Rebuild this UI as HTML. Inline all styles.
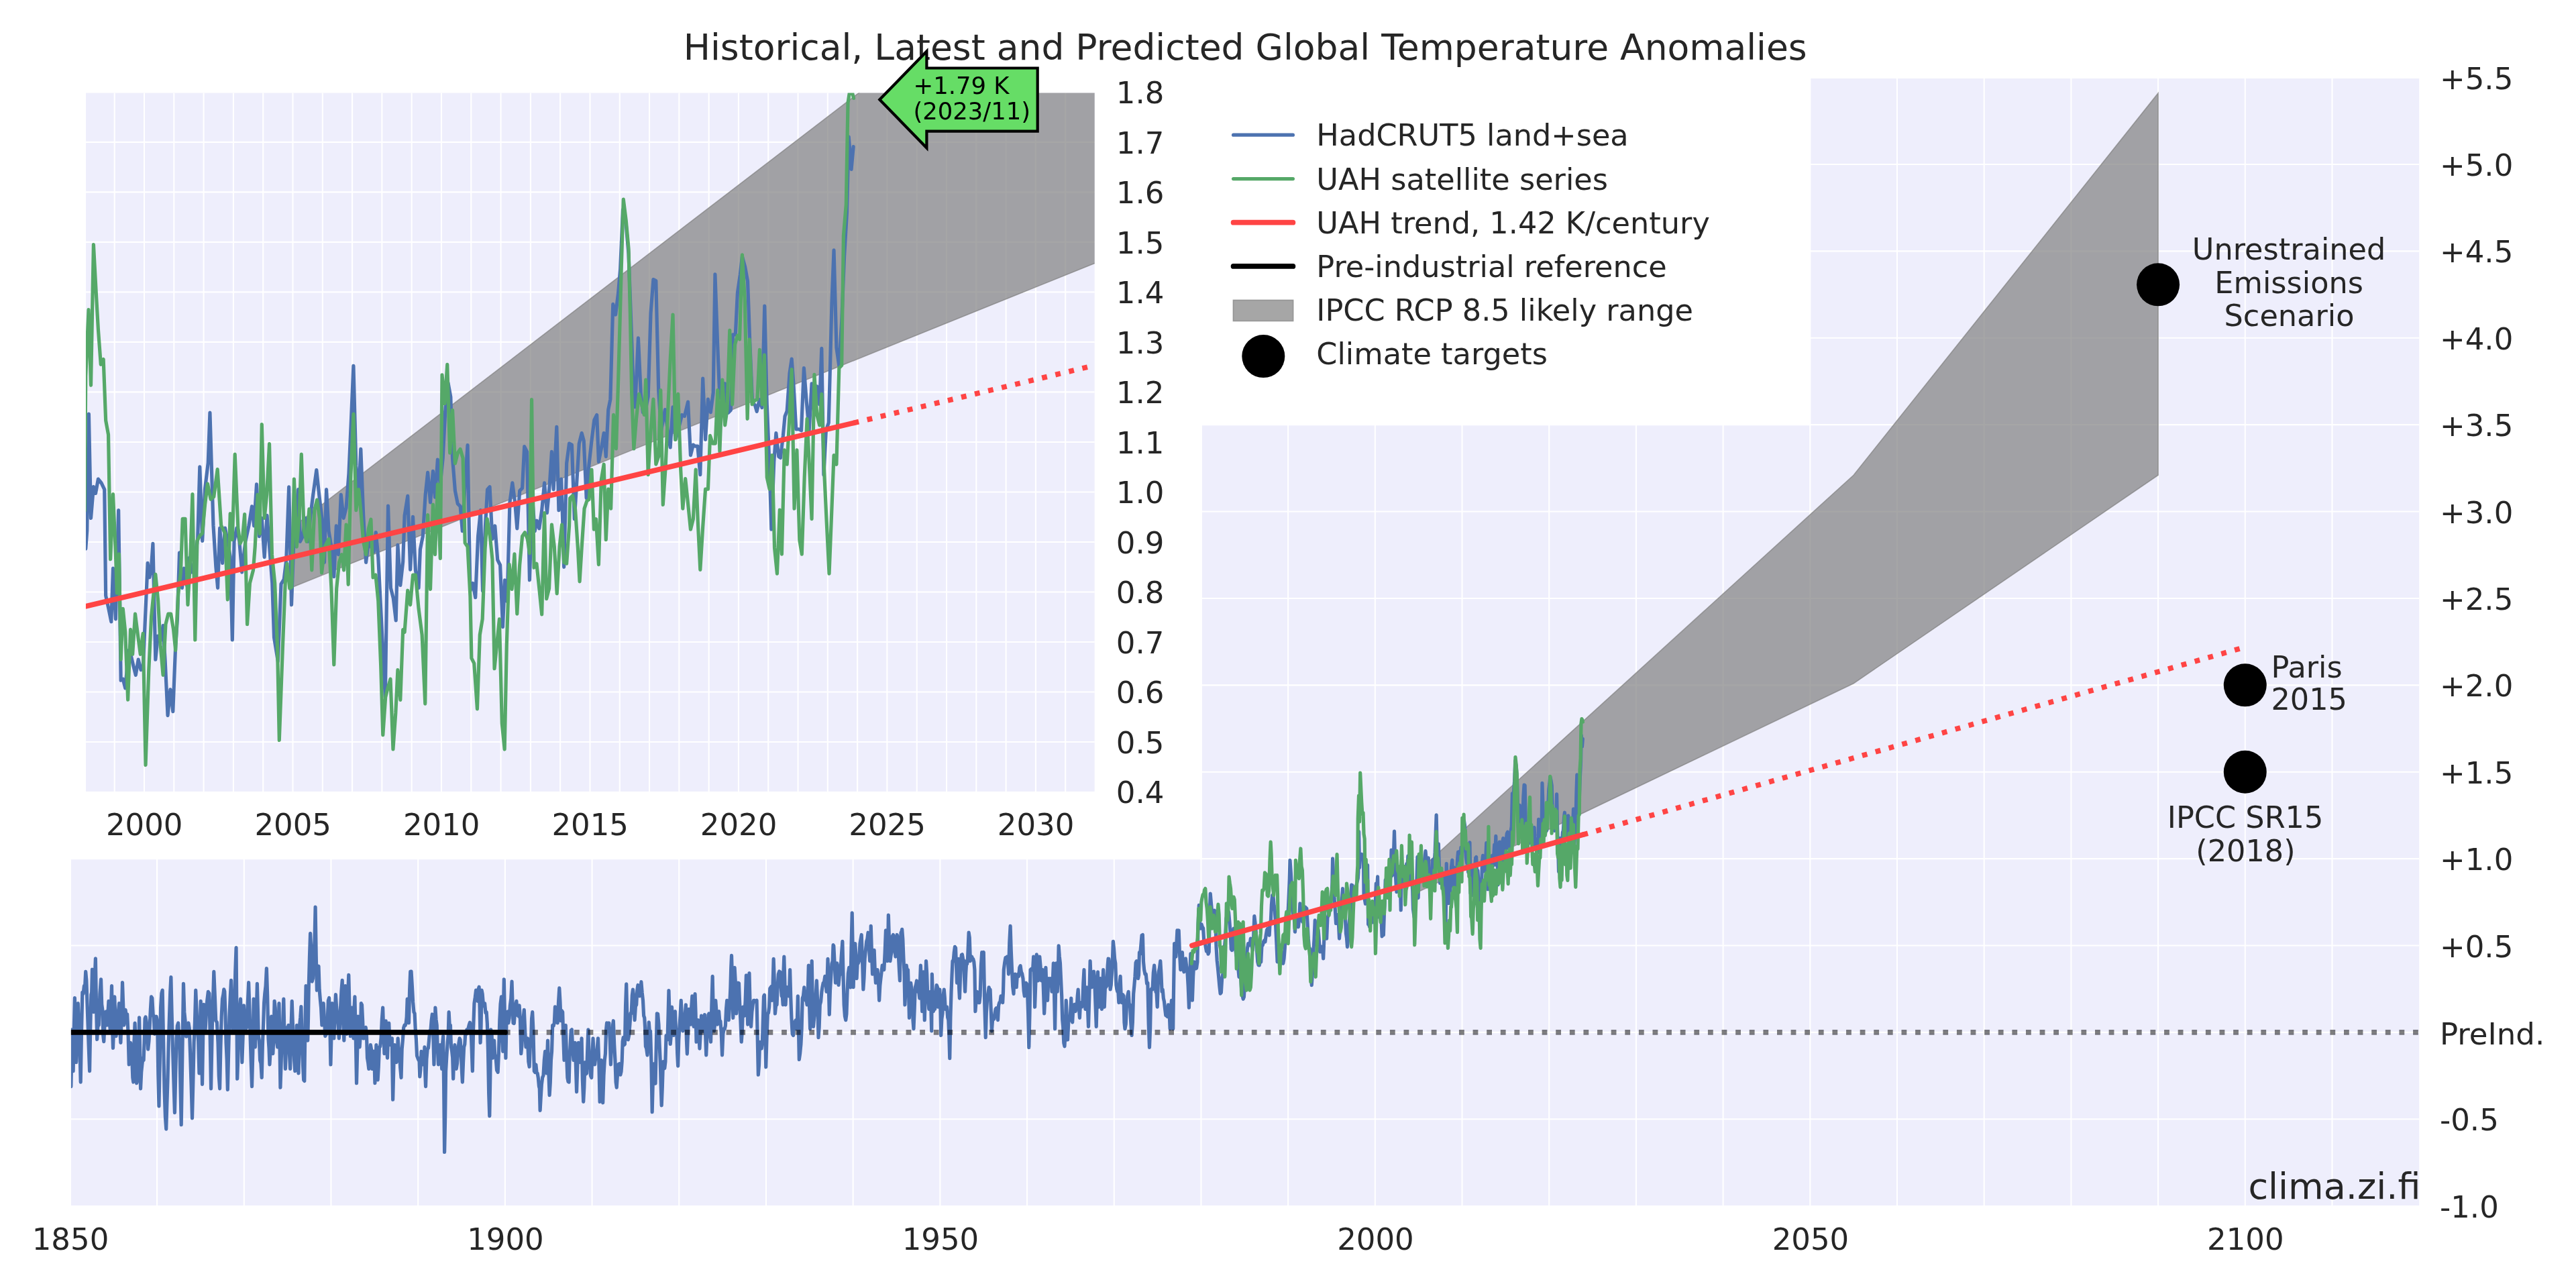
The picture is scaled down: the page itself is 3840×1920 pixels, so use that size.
<!DOCTYPE html><html><head><meta charset="utf-8"><title>Historical, Latest and Predicted Global Temperature Anomalies</title>
<style>html,body{margin:0;padding:0;background:#fff;overflow:hidden;}svg{display:block;will-change:transform;}text{font-family:'DejaVu Sans', 'Liberation Sans', sans-serif;fill:#262626;}</style></head><body>
<svg width="3840" height="1920" viewBox="0 0 3840 1920">
<rect x="0" y="0" width="3840" height="1920" fill="#fff"/>
<defs><clipPath id="cm"><rect x="105.9" y="117" width="3500.3" height="1680"/></clipPath>
<clipPath id="ci"><rect x="127.95" y="138.5" width="1503.75" height="1041.4"/></clipPath></defs>
<rect x="105.9" y="117" width="3500.3" height="1680" fill="#EEEEFC"/>
<path d="M234.09,117V1797M363.79,117V1797M493.49,117V1797M623.18,117V1797M752.88,117V1797M882.57,117V1797M1012.26,117V1797M1141.96,117V1797M1271.66,117V1797M1401.35,117V1797M1531.05,117V1797M1660.74,117V1797M1790.44,117V1797M1920.13,117V1797M2049.82,117V1797M2179.52,117V1797M2309.22,117V1797M2438.91,117V1797M2568.61,117V1797M2698.3,117V1797M2827.99,117V1797M2957.69,117V1797M3087.39,117V1797M3217.08,117V1797M3346.78,117V1797M3476.47,117V1797M105.9,1668.29H3606.2M105.9,1538.9H3606.2M105.9,1409.51H3606.2M105.9,1280.12H3606.2M105.9,1150.73H3606.2M105.9,1021.34H3606.2M105.9,891.95H3606.2M105.9,762.56H3606.2M105.9,633.17H3606.2M105.9,503.78H3606.2M105.9,374.39H3606.2M105.9,245H3606.2" stroke="#fff" stroke-width="2.1" fill="none"/>
<g clip-path="url(#cm)">
<polygon points="2114.67,1298.23 2763.15,708.22 3217.08,138.9 3217.08,708.22 2763.15,1018.75 2114.67,1329.29" fill="#808080" fill-opacity="0.7" stroke="#808080" stroke-opacity="0.7" stroke-width="1.6" stroke-linejoin="miter"/>
<path d="M105.87,1619.56L106.52,1588.53L107.17,1534.79L108.15,1554.97L109.13,1596.74L110.27,1533.93L111.41,1487.51L112.55,1543.21L113.7,1583.69L115,1539.82L116.3,1495.66L117.12,1516.79L117.93,1534.79L119.08,1569.21L120.22,1613.04L121.52,1537.23L122.83,1479.35L124.13,1481.45L125.43,1469.57L126.58,1470.86L127.72,1448.38L128.86,1461.59L130,1495.66L131.79,1548.29L133.59,1596.74L134.73,1531.53L135.87,1482.62L136.68,1479.33L137.5,1445.12L138.64,1478.61L139.78,1508.7L141.09,1461.88L142.39,1428.81L143.53,1497.56L144.67,1549.46L145.98,1527.65L147.28,1528.26L148.91,1481.56L150.54,1459.79L151.68,1497.19L152.83,1505.44L153.8,1543.82L154.78,1552.72L155.92,1529.42L157.06,1508.7L158.21,1507.92L159.35,1528.26L160.65,1514.02L161.96,1492.4L163.1,1522.39L164.24,1534.79L165.38,1504.6L166.52,1469.57L167.5,1530.66L168.48,1562.5L169.62,1532.83L170.76,1485.88L171.9,1517.15L173.04,1544.57L174.18,1526.76L175.33,1508.7L176.47,1507.38L177.61,1495.66L178.75,1533.36L179.89,1554.35L181.2,1518.25L182.5,1464.68L183.64,1497.73L184.78,1528.26L185.92,1522.39L187.06,1505.44L188.37,1515.84L189.67,1511.96L190.98,1538.98L192.28,1586.96L193.42,1568.9L194.56,1554.35L195.71,1563.32L196.85,1580.43L197.83,1606.49L198.8,1613.04L199.95,1553.73L201.09,1525L202.39,1558.66L203.69,1614.67L204.84,1610.96L205.98,1583.69L206.79,1555.47L207.61,1516.85L208.59,1562.96L209.56,1622.82L210.71,1598.33L211.85,1586.96L212.99,1577.18L214.13,1580.43L215.11,1551.88L216.09,1518.48L217.06,1515.94L218.04,1521.74L219.35,1537.65L220.65,1564.13L221.95,1552.3L223.26,1528.26L224.4,1504.35L225.54,1485.88L226.85,1487.98L228.15,1511.96L229.29,1515.94L230.43,1541.31L231.74,1528.11L233.04,1515.22L233.86,1518.58L234.67,1525L235.81,1601.41L236.95,1648.91L238.26,1583.53L239.56,1502.18L240.87,1480.63L242.17,1476.09L243.64,1553.75L245.11,1626.08L246.41,1664.77L247.72,1683.14L248.86,1644.95L250,1609.78L251.3,1554.57L252.61,1511.96L253.75,1478.83L254.89,1456.53L256.03,1507.7L257.17,1551.09L258.8,1606.78L260.43,1658.69L261.74,1603L263.04,1547.83L264.35,1529.08L265.65,1525L266.79,1543.92L267.93,1564.13L269.07,1623.69L270.22,1676.62L271.85,1571.79L273.48,1466.31L274.78,1508.64L276.09,1521.74L277.39,1545.17L278.69,1544.57L279.83,1529.89L280.98,1525L282.28,1532.82L283.59,1570.65L285.05,1615.85L286.52,1666.84L287.82,1613.9L289.13,1554.35L290.43,1525.46L291.74,1476.09L293.04,1505.37L294.35,1534.79L295.65,1552.42L296.95,1600L298.1,1537.8L299.24,1492.4L300.38,1553.12L301.52,1616.3L302.66,1545.61L303.8,1497.29L304.94,1524.35L306.08,1534.79L307.39,1513.16L308.69,1492.4L310.32,1478.39L311.95,1480.99L313.26,1549.49L314.56,1622.82L315.7,1563.77L316.85,1502.18L317.82,1482.44L318.8,1448.38L320.27,1483.57L321.74,1521.74L323.37,1523.85L325,1554.35L326.3,1603.94L327.61,1622.82L328.91,1560.21L330.21,1515.22L331.52,1488.97L332.82,1482.62L333.8,1474.85L334.78,1477.72L335.92,1508.57L337.06,1554.35L338.2,1579.8L339.35,1624.45L340.65,1569.26L341.95,1515.22L343.26,1486.42L344.56,1461.42L345.7,1500.4L346.85,1534.79L348.15,1534.44L349.45,1508.7L350.76,1449.1L352.06,1412.49L352.88,1508.14L353.69,1608.15L355,1571.01L356.3,1515.22L357.44,1502.04L358.58,1489.14L359.73,1536.88L360.87,1583.69L362.17,1545.75L363.47,1498.92L364.62,1521.63L365.76,1534.79L366.9,1532.67L368.04,1531.52L369.34,1494.27L370.65,1464.68L371.95,1504.39L373.26,1551.09L374.4,1586.62L375.54,1619.56L376.84,1569.01L378.15,1489.14L379.29,1533.4L380.43,1560.87L381.9,1523.62L383.37,1466.31L384.34,1502.82L385.32,1544.57L386.46,1551.29L387.61,1580.43L388.91,1584.94L390.21,1606.52L391.36,1558.17L392.5,1528.26L393.64,1494.8L394.78,1480.99L396.08,1469.84L397.39,1443.49L398.69,1485.05L400,1547.83L400.97,1562.02L401.95,1586.96L403.26,1564.03L404.56,1515.22L405.7,1557.95L406.84,1570.65L407.99,1546.6L409.13,1492.4L410.27,1502.39L411.41,1528.26L412.55,1552.34L413.69,1560.87L414.83,1540.39L415.98,1495.66L416.95,1554.55L417.93,1621.19L419.24,1581.19L420.54,1531.52L421.68,1523.7L422.82,1489.14L424.13,1551.88L425.43,1593.48L426.57,1561.65L427.71,1531.52L428.86,1534.09L430,1528.26L431.3,1567.92L432.6,1593.48L433.91,1536.37L435.21,1492.4L436.36,1524.78L437.5,1554.35L438.64,1581.07L439.78,1596.74L441.08,1563.32L442.39,1528.26L443.69,1578.92L445,1600L445.81,1567.65L446.63,1528.26L447.77,1516.76L448.91,1500.55L450.21,1553.44L451.52,1586.96L452.66,1609.93L453.8,1611.41L454.94,1528.08L456.08,1469.57L457.39,1510.02L458.69,1551.09L459.51,1518.55L460.32,1467.94L461.46,1426.34L462.6,1391.29L463.91,1417.33L465.21,1463.05L466.52,1458.37L467.82,1423.92L468.96,1403.02L470.1,1352.16L471.25,1425.11L472.39,1476.09L473.69,1451.37L475,1440.23L476.14,1475.23L477.28,1489.14L478.58,1502.35L479.89,1528.26L481.03,1506.43L482.17,1495.66L483.47,1518.72L484.78,1544.57L486.41,1541.5L488.04,1525L489.34,1491.49L490.65,1487.51L491.79,1527.98L492.93,1586.96L494.07,1540.79L495.21,1495.66L496.52,1530.34L497.82,1547.83L499.13,1510.61L500.43,1482.62L501.57,1500.54L502.71,1511.96L504.02,1527.54L505.32,1547.83L506.46,1530.55L507.6,1502.18L508.91,1477.73L510.21,1461.42L511.52,1519.96L512.82,1551.09L513.86,1516.58L514.89,1469.57L516.03,1490.91L517.17,1541.31L518.48,1485.63L519.78,1453.27L521.09,1504.93L522.39,1544.57L523.53,1512.24L524.67,1502.18L525.82,1530.89L526.96,1547.83L527.93,1503.21L528.91,1485.88L530.22,1542.7L531.52,1614.67L532.66,1567.55L533.8,1515.22L534.95,1545.74L536.09,1560.87L537.23,1543.53L538.37,1495.66L539.51,1497.86L540.65,1521.74L541.63,1548.01L542.61,1547.83L543.91,1532.72L545.22,1531.52L546.36,1540L547.5,1577.17L548.64,1583.8L549.78,1593.48L551.09,1585.74L552.39,1557.61L553.53,1564.12L554.67,1593.48L555.98,1566.88L557.28,1567.39L558.1,1584.7L558.91,1614.67L559.89,1585.86L560.87,1557.61L562.01,1587.48L563.15,1609.78L564.29,1590.08L565.43,1560.87L566.74,1560.08L568.04,1547.83L569.35,1519.6L570.65,1502.18L571.79,1538.5L572.93,1570.65L574.07,1555.7L575.22,1521.74L576.36,1561.74L577.5,1577.17L578.64,1545.93L579.78,1525L580.76,1547.64L581.74,1557.61L583.04,1552.72L584.35,1547.83L585,1598.9L585.65,1639.13L586.96,1586.83L588.26,1557.61L589.56,1559.22L590.87,1583.69L592.01,1580.73L593.15,1547.83L594.29,1564.8L595.43,1567.39L596.74,1592.3L598.04,1606.52L599.18,1563.68L600.33,1551.09L601.63,1532.23L602.93,1528.26L604.07,1528.67L605.22,1525L606.19,1515.98L607.17,1489.14L608.31,1501.65L609.46,1525L610.6,1476.2L611.74,1448.38L613.04,1448.09L614.35,1469.57L615.65,1493.99L616.96,1508.7L618.1,1510.8L619.24,1534.79L620.38,1548.54L621.52,1573.91L622.82,1577.4L624.13,1580.43L624.94,1579.32L625.76,1604.89L626.9,1594.38L628.04,1567.39L629.35,1571.75L630.65,1586.96L631.79,1585.8L632.93,1560.87L633.75,1600.47L634.56,1619.56L635.87,1579.08L637.17,1564.13L638.48,1562.23L639.78,1547.83L640.92,1536.26L642.06,1534.79L643.2,1520.73L644.35,1511.96L645.65,1538.86L646.95,1586.96L647.93,1548.66L648.91,1502.18L650.05,1519.79L651.19,1528.26L652.34,1564.09L653.48,1586.96L654.78,1560.93L656.08,1557.61L657.39,1572.31L658.69,1593.48L659.67,1554.91L660.65,1544.57L661.63,1618.95L662.61,1717.38L663.59,1668.38L664.56,1596.74L665.87,1573.95L667.17,1554.35L668.15,1543.81L669.13,1508.7L670.27,1529.56L671.41,1528.26L672.55,1561.08L673.69,1567.39L674.67,1576.4L675.65,1608.15L676.79,1573.93L677.93,1557.61L679.07,1565.34L680.22,1593.48L681.52,1584.99L682.82,1567.39L683.97,1554.84L685.11,1547.83L686.09,1549.84L687.06,1564.13L688.21,1592.37L689.35,1613.04L690.49,1584.76L691.63,1560.87L692.77,1556.73L693.91,1538.05L694.89,1541.7L695.87,1534.79L697.5,1535L699.13,1528.26L700.43,1524.22L701.74,1528.26L703.04,1560.5L704.35,1596.74L705.65,1533L706.95,1495.66L708.26,1486.89L709.56,1476.09L710.87,1489.09L712.17,1492.4L713.15,1474.57L714.13,1471.2L715.11,1502.6L716.08,1554.35L717.06,1530.36L718.04,1476.09L719.18,1481.78L720.32,1495.66L721.47,1499.88L722.61,1495.66L723.91,1509.68L725.21,1508.7L726.36,1526.09L727.5,1567.39L728.64,1629.77L729.78,1663.58L730.76,1607.27L731.74,1534.79L733.04,1540.82L734.35,1577.17L735.49,1566.39L736.63,1551.09L737.77,1572.62L738.91,1573.91L740.54,1595.28L742.17,1598.37L743.48,1568.09L744.78,1521.74L746.08,1496.23L747.39,1485.88L748.53,1538.97L749.67,1567.39L750.49,1500.84L751.3,1459.79L752.61,1522.26L753.91,1577.17L754.89,1528.33L755.87,1508.7L756.84,1507.95L757.82,1525L759.13,1517.85L760.43,1498.92L761.74,1488.64L763.04,1463.05L764.02,1494.74L765,1525L766.3,1525.55L767.61,1508.7L768.75,1497.24L769.89,1492.4L771.03,1513.25L772.17,1511.96L773.15,1514.98L774.13,1498.92L775.43,1519.8L776.74,1570.65L777.88,1559.07L779.02,1534.79L780.16,1517.13L781.3,1505.44L782.61,1534.71L783.91,1560.87L785.21,1557.99L786.52,1547.83L787.82,1582.59L789.13,1590.22L790.27,1561.08L791.41,1557.61L792.55,1518.57L793.69,1508.7L795,1538.13L796.3,1596.74L797.61,1598.53L798.91,1586.96L800.05,1599.03L801.19,1600L802.33,1606.95L803.48,1619.56L804.29,1622.59L805.11,1655.43L806.25,1634.53L807.39,1616.3L808.69,1606.11L810,1603.26L811.3,1580.3L812.61,1567.39L813.75,1591.18L814.89,1600L815.7,1574.25L816.52,1551.09L817.82,1597.83L819.13,1632.6L820.27,1614.39L821.41,1580.43L822.55,1567.35L823.69,1528.26L825,1529.4L826.3,1525L827.44,1500.86L828.58,1502.18L829.89,1514.96L831.19,1525L832.5,1494.2L833.8,1472.83L834.94,1492.83L836.08,1521.74L837.39,1506.64L838.69,1508.7L839.83,1547.97L840.97,1580.43L842.12,1560.35L843.26,1528.26L844.56,1572.76L845.87,1606.52L847.01,1612.51L848.15,1613.04L849.13,1574.55L850.1,1557.61L851.25,1535.84L852.39,1534.79L853.69,1563.73L855,1580.43L856.14,1572.13L857.28,1554.35L858.42,1589.66L859.56,1627.71L860.87,1588.58L862.17,1554.35L863.47,1566.06L864.78,1583.69L865.92,1573.68L867.06,1547.83L868.37,1610L869.67,1642.39L870.81,1621L871.95,1583.69L873.26,1601.15L874.56,1600L875.7,1565.8L876.84,1534.79L877.99,1567.67L879.13,1573.91L880.43,1603.41L881.73,1606.52L882.88,1572.97L884.02,1547.83L885.32,1573.89L886.63,1586.96L887.77,1577.04L888.91,1577.17L890.21,1562.71L891.52,1547.83L892.82,1583.85L894.13,1642.39L895.27,1622.15L896.41,1580.43L897.55,1612.18L898.69,1644.02L900,1603.07L901.3,1580.43L902.44,1570.74L903.58,1534.79L904.56,1524.82L905.54,1528.26L906.68,1530.76L907.82,1525L909.13,1547.4L910.43,1586.96L911.57,1555.59L912.71,1554.35L913.53,1528.06L914.34,1521.74L915.65,1556.68L916.95,1580.43L918.09,1613.02L919.23,1621.19L920.38,1603.63L921.52,1586.96L923.2,1585.76L924.89,1602.17L926.03,1597.36L927.17,1582.61L928.15,1552.45L929.13,1546.74L930.27,1557.79L931.41,1556.52L932.55,1498.94L933.7,1466.86L935,1522.97L936.3,1550L937.61,1543.43L938.91,1527.18L940.05,1510.25L941.2,1510.87L942.34,1483.5L943.48,1475.01L944.78,1485.19L946.09,1520.66L947.39,1500.27L948.69,1497.83L949.84,1475.55L950.98,1468.49L952.12,1472.51L953.26,1484.79L954.56,1482.3L955.87,1463.6L957.17,1479.46L958.48,1491.31L959.62,1514.14L960.76,1517.4L961.58,1531.92L962.39,1559.78L963.69,1563.04L965,1572.83L966.14,1556.05L967.28,1523.92L968.42,1538.92L969.56,1536.96L970.87,1582.89L972.17,1657.6L973.31,1612.16L974.46,1585.87L975.76,1599.02L977.06,1615.21L978.21,1561.76L979.35,1510.87L980.65,1511.38L981.96,1527.18L983.1,1556.34L984.24,1582.61L985.22,1618.45L986.2,1647.82L987.34,1620.22L988.48,1582.61L989.62,1591.66L990.76,1592.39L991.9,1582.7L993.04,1543.48L994.02,1544.56L995,1550L995.98,1515.91L996.96,1476.64L998.1,1514.39L999.24,1556.52L1000.38,1542.4L1001.52,1501.09L1002.83,1526.79L1004.13,1543.48L1005.27,1536.78L1006.41,1507.61L1007.55,1533.87L1008.69,1536.96L1009.67,1570.52L1010.65,1589.13L1011.79,1549.57L1012.93,1530.44L1014.08,1514.05L1015.22,1491.31L1016.52,1517.21L1017.83,1536.96L1018.97,1522.59L1020.11,1514.13L1021.25,1511.78L1022.39,1497.83L1023.37,1549.81L1024.35,1571.2L1025.65,1536.88L1026.96,1504.35L1028.26,1515.74L1029.56,1527.18L1030.71,1501.36L1031.85,1484.79L1032.99,1509.53L1034.13,1530.44L1035.11,1500.19L1036.09,1481.53L1037.06,1510.21L1038.04,1553.26L1039.35,1545.08L1040.65,1520.66L1041.79,1542L1042.93,1563.04L1044.24,1539.25L1045.54,1514.13L1046.85,1532.79L1048.15,1536.96L1049.29,1527.14L1050.43,1512.5L1051.57,1540.79L1052.72,1572.83L1053.86,1543.89L1055,1540.22L1055.98,1512.64L1056.96,1510.87L1058.26,1539.05L1059.56,1553.26L1060.87,1499.81L1062.17,1455.44L1063.31,1510.23L1064.46,1536.96L1065.6,1527.44L1066.74,1491.31L1068.04,1508.88L1069.35,1527.18L1070.49,1508.32L1071.63,1507.61L1072.77,1521.97L1073.91,1522.29L1075.22,1539.3L1076.52,1572.83L1077.82,1541.37L1079.13,1533.7L1080.27,1533.85L1081.41,1528.81L1082.55,1504.08L1083.69,1491.31L1085,1495.2L1086.3,1520.66L1087.61,1500.19L1088.91,1471.75L1089.73,1441.86L1090.54,1424.47L1091.68,1463.59L1092.82,1517.4L1093.97,1476.96L1095.11,1442.4L1096.41,1465.57L1097.72,1510.87L1099.02,1475.73L1100.32,1465.23L1101.47,1465.68L1102.61,1494.57L1103.91,1521.7L1105.21,1553.26L1106.36,1537.23L1107.5,1501.09L1108.64,1512.47L1109.78,1514.13L1111.08,1492.74L1112.39,1453.81L1113.53,1488.34L1114.67,1527.18L1115.81,1480.86L1116.95,1450.55L1118.26,1504.4L1119.56,1530.44L1120.87,1508.49L1122.17,1497.83L1123.48,1491.33L1124.78,1491.31L1126.41,1492.88L1128.04,1491.31L1129.18,1546.27L1130.32,1602.17L1131.47,1588.13L1132.61,1553.26L1133.91,1554.2L1135.21,1563.04L1136.36,1554.48L1137.5,1517.4L1138.48,1485.33L1139.45,1483.16L1140.6,1527.4L1141.74,1590.76L1143.04,1546.83L1144.35,1510.87L1145.49,1509.98L1146.63,1501.09L1147.77,1473.66L1148.91,1471.75L1149.89,1470.48L1150.87,1491.31L1152.01,1471.54L1153.15,1429.36L1154.29,1461.55L1155.43,1510.87L1156.74,1497.69L1158.04,1497.83L1159.18,1470.05L1160.32,1452.18L1161.63,1448.02L1162.93,1448.92L1164.07,1468.56L1165.21,1484.79L1166.19,1483.04L1167.17,1497.83L1167.99,1447.33L1168.8,1426.1L1169.94,1465.62L1171.08,1497.83L1172.23,1476.13L1173.37,1471.75L1174.51,1479.57L1175.65,1484.79L1176.63,1475.64L1177.61,1445.66L1178.75,1486.95L1179.89,1517.4L1181.19,1541.13L1182.5,1543.48L1183.64,1523.87L1184.78,1523.92L1186.08,1520.91L1187.39,1533.7L1188.37,1521.07L1189.35,1484.79L1190.32,1528.94L1191.3,1579.35L1192.61,1570.35L1193.91,1556.52L1195.05,1534.15L1196.19,1488.05L1197.5,1484.35L1198.8,1471.75L1199.94,1487.58L1201.08,1491.31L1202.06,1490.85L1203.04,1497.83L1204.18,1483.89L1205.32,1439.14L1206.46,1496.05L1207.61,1533.7L1208.91,1485.06L1210.21,1432.62L1211.36,1496.4L1212.5,1530.44L1213.8,1515.67L1215.11,1507.61L1216.25,1481.51L1217.39,1461.96L1218.69,1493.94L1220,1546.74L1221.14,1531.4L1222.28,1497.83L1223.58,1493.22L1224.89,1478.27L1226.03,1470.92L1227.17,1465.23L1228.47,1464.23L1229.78,1455.44L1230.92,1464.6L1232.06,1478.27L1233.04,1461.55L1234.02,1429.36L1235.16,1465.23L1236.3,1512.5L1237.44,1476.56L1238.58,1458.7L1239.89,1436.83L1241.19,1432.62L1242.01,1408.72L1242.82,1409.77L1244.13,1436.09L1245.43,1465.23L1246.57,1450.84L1247.71,1435.88L1248.85,1441.14L1250,1468.49L1251.3,1454.48L1252.61,1452.18L1254.24,1425.52L1255.87,1403.25L1257.01,1454.16L1258.15,1497.83L1259.45,1514.93L1260.76,1520.66L1261.9,1511.63L1263.04,1478.27L1264.34,1450.78L1265.65,1442.4L1266.79,1468.87L1267.93,1471.75L1269.07,1408.62L1270.21,1360.86L1271.19,1414.9L1272.17,1471.75L1273.47,1424.69L1274.78,1406.51L1275.92,1424.5L1277.06,1458.7L1278.2,1434.82L1279.34,1435.88L1280.65,1432.43L1281.95,1406.51L1283.09,1399.98L1284.24,1393.47L1285.54,1431.98L1286.84,1475.01L1287.98,1458.04L1289.13,1429.36L1290.43,1416.22L1291.74,1403.25L1292.88,1399.52L1294.02,1390.21L1295.32,1410.53L1296.63,1432.62L1297.44,1422.02L1298.26,1380.42L1299.4,1418.09L1300.54,1452.18L1301.84,1435.8L1303.15,1416.29L1304.29,1446.82L1305.43,1465.23L1306.73,1457.86L1308.04,1445.66L1309.34,1459.7L1310.65,1491.31L1311.79,1469.31L1312.93,1458.7L1314.07,1449.11L1315.21,1439.14L1316.52,1440.2L1317.82,1445.66L1319.13,1420.11L1320.43,1386.94L1321.57,1418.98L1322.71,1432.62L1323.53,1413.78L1324.34,1364.12L1325.65,1405.28L1326.95,1432.62L1328.09,1424.17L1329.23,1419.55L1330.38,1395.59L1331.52,1393.47L1333.2,1399.55L1334.89,1426.1L1336.03,1409.44L1337.17,1393.47L1338.48,1397.92L1339.78,1432.62L1340.6,1448.48L1341.41,1461.96L1342.23,1415.69L1343.04,1390.21L1343.86,1389.01L1344.67,1385.31L1345.81,1399.74L1346.96,1429.36L1347.93,1448.45L1348.91,1497.83L1350.05,1474.53L1351.2,1439.14L1352.34,1447.32L1353.48,1445.66L1354.46,1477.8L1355.43,1517.4L1356.58,1490.35L1357.72,1465.23L1358.86,1474.49L1360,1478.27L1360.98,1521.4L1361.96,1533.7L1363.1,1506.16L1364.24,1471.75L1365.38,1468.13L1366.52,1461.96L1367.5,1472.18L1368.48,1478.27L1369.62,1476.95L1370.76,1488.05L1371.58,1460.97L1372.39,1439.14L1373.53,1466.12L1374.67,1507.61L1375.65,1465.91L1376.63,1448.92L1377.45,1477.06L1378.26,1520.66L1379.4,1476.86L1380.54,1432.62L1381.68,1451.07L1382.83,1484.79L1383.8,1491.2L1384.78,1504.35L1385.92,1487.05L1387.06,1478.27L1387.88,1503.59L1388.7,1536.96L1389.35,1452.18L1390.33,1482.79L1391.3,1507.61L1392.45,1504.35L1393.59,1504.35L1394.89,1482.27L1396.19,1468.49L1397.34,1471.22L1398.48,1501.09L1399.62,1479.97L1400.76,1475.01L1401.74,1498.49L1402.72,1543.48L1403.86,1518.87L1405,1510.87L1406.14,1483.15L1407.28,1475.01L1408.26,1486.42L1409.24,1504.35L1410.38,1504.62L1411.52,1501.09L1412.66,1516.53L1413.8,1520.66L1414.78,1542.73L1415.76,1577.72L1416.9,1516.38L1418.04,1478.27L1419.02,1454.07L1420,1432.62L1421.14,1432.87L1422.28,1419.55L1423.42,1411.32L1424.56,1413.03L1425.54,1439.61L1426.52,1465.23L1427.66,1448.31L1428.8,1429.36L1429.62,1472.82L1430.43,1488.05L1431.41,1460.02L1432.39,1432.62L1433.37,1423.5L1434.35,1422.81L1435.49,1429.05L1436.63,1432.62L1437.61,1459.94L1438.59,1478.27L1439.73,1450.57L1440.87,1432.62L1441.68,1437.06L1442.5,1429.36L1443.31,1409.56L1444.13,1390.21L1445.27,1397.56L1446.41,1432.62L1447.55,1426.52L1448.69,1426.1L1449.67,1428.97L1450.65,1429.36L1451.79,1433.4L1452.93,1445.66L1453.91,1507.61L1455.22,1489.7L1456.52,1478.27L1457.66,1492.75L1458.8,1494.57L1459.94,1494.71L1461.08,1484.79L1462.39,1440.18L1463.69,1419.55L1465,1421.94L1466.3,1419.55L1467.77,1496.35L1469.24,1546.74L1470.38,1508.76L1471.52,1491.31L1472.82,1480.97L1474.13,1471.75L1475.11,1475.04L1476.09,1475.01L1477.23,1505.63L1478.37,1536.96L1479.51,1521.48L1480.65,1517.4L1481.79,1519.08L1482.93,1510.87L1484.07,1504.34L1485.22,1502.72L1486.36,1506.8L1487.5,1520.66L1488.64,1498.6L1489.78,1494.57L1490.92,1493.64L1492.06,1484.79L1493.37,1487.79L1494.67,1494.57L1495.49,1478.44L1496.3,1445.66L1497.61,1435.3L1498.91,1427.73L1500.05,1430.68L1501.19,1426.1L1502.34,1430.85L1503.48,1452.18L1504.78,1404.92L1506.09,1380.42L1507.23,1416.7L1508.37,1442.4L1509.67,1470.59L1510.98,1481.53L1512.12,1452.53L1513.26,1452.18L1514.24,1456.99L1515.22,1471.75L1516.36,1453.7L1517.5,1452.18L1518.64,1455.37L1519.78,1442.4L1521.09,1439.7L1522.39,1448.92L1523.69,1451.71L1525,1458.7L1526.14,1477L1527.28,1484.79L1528.42,1476.65L1529.56,1465.23L1530.54,1466.65L1531.52,1478.27L1532.66,1510.98L1533.8,1561.41L1534.94,1513.17L1536.08,1445.66L1537.39,1444.36L1538.69,1445.66L1539.67,1443.92L1540.65,1426.1L1541.63,1448.91L1542.61,1501.09L1543.91,1463.7L1545.22,1422.81L1546.36,1429.56L1547.5,1461.96L1548.64,1436.94L1549.78,1426.1L1551.08,1440.73L1552.39,1461.96L1553.37,1458.99L1554.35,1445.66L1555.49,1477.44L1556.63,1510.87L1557.77,1487.86L1558.91,1442.4L1560.21,1478.09L1561.52,1491.31L1562.5,1468.31L1563.48,1458.7L1564.78,1460.14L1566.08,1458.7L1567.06,1462.44L1568.04,1478.27L1569.18,1465.13L1570.32,1435.88L1571.46,1478.01L1572.61,1533.7L1573.58,1478L1574.56,1435.88L1575.38,1463.11L1576.19,1478.27L1577.17,1456.24L1578.15,1409.77L1579.29,1425.77L1580.43,1435.88L1581.57,1460.57L1582.71,1484.79L1583.69,1520.04L1584.67,1530.44L1585.81,1554.79L1586.95,1559.78L1588.1,1539.36L1589.24,1491.31L1590.38,1517.63L1591.52,1550L1592.82,1523.32L1594.13,1520.66L1595.43,1513.15L1596.74,1488.05L1597.71,1520.43L1598.69,1523.92L1599.67,1505.04L1600.65,1497.83L1601.95,1497.31L1603.26,1507.61L1604.24,1497.43L1605.21,1501.09L1606.19,1484.81L1607.17,1475.01L1608.31,1501.09L1609.45,1517.4L1610.43,1497.09L1611.41,1494.57L1612.55,1501.03L1613.69,1497.83L1614.83,1465.76L1615.98,1445.66L1616.95,1487.58L1617.93,1504.35L1619.07,1491.16L1620.21,1471.75L1621.36,1501.25L1622.5,1530.44L1623.8,1485.32L1625.11,1432.62L1626.25,1462.47L1627.39,1471.75L1628.37,1467.4L1629.34,1448.92L1630.49,1448.31L1631.63,1458.7L1632.93,1495.73L1634.24,1530.44L1635.38,1487.2L1636.52,1448.92L1637.33,1483.95L1638.15,1501.09L1639.29,1473.22L1640.43,1458.7L1641.41,1486.8L1642.39,1504.35L1643.53,1472.1L1644.67,1445.66L1645.49,1460.66L1646.3,1501.09L1647.44,1471.15L1648.58,1471.75L1649.89,1469.54L1651.19,1439.14L1652.01,1429.13L1652.82,1429.36L1653.96,1441.08L1655.1,1475.01L1656.25,1468.35L1657.39,1452.18L1658.37,1431.34L1659.34,1403.25L1660.49,1414.01L1661.63,1429.36L1662.77,1435.92L1663.91,1468.49L1664.89,1475.1L1665.87,1478.27L1666.84,1478.15L1667.82,1494.57L1668.96,1466.98L1670.11,1455.44L1671.25,1485.81L1672.39,1494.57L1673.69,1482.57L1675,1484.79L1675.97,1524.3L1676.95,1533.7L1678.26,1526.78L1679.56,1497.83L1680.87,1484.09L1682.17,1478.27L1683.31,1498.7L1684.45,1497.83L1685.76,1524.4L1687.06,1543.48L1688.37,1523.99L1689.67,1481.53L1690.81,1469.55L1691.95,1455.44L1693.09,1435.08L1694.24,1432.62L1695.38,1434.04L1696.52,1458.7L1697.5,1453.55L1698.47,1419.55L1699.62,1422.21L1700.76,1409.77L1702.06,1394.2L1703.37,1393.47L1704.51,1433.76L1705.65,1445.66L1706.95,1452.3L1708.26,1452.18L1709.56,1466.16L1710.87,1465.23L1712.17,1526.02L1713.47,1561.41L1714.62,1532.88L1715.76,1475.01L1716.9,1473.58L1718.04,1475.01L1719.34,1449.48L1720.65,1439.14L1721.79,1452.9L1722.93,1478.27L1724.07,1480.58L1725.21,1501.09L1726.19,1469.94L1727.17,1448.92L1728.47,1443.17L1729.78,1432.62L1730.92,1451.37L1732.06,1478.27L1733.2,1475.08L1734.34,1488.05L1735.48,1493.12L1736.63,1504.35L1737.77,1513.66L1738.91,1514.13L1740.21,1515.56L1741.52,1497.83L1742.82,1502.25L1744.13,1533.7L1745.27,1509.69L1746.41,1491.31L1747.55,1517.17L1748.69,1533.7L1749.67,1466.83L1750.65,1406.51L1751.79,1414.85L1752.93,1426.1L1753.91,1405.83L1754.89,1386.94L1756.03,1391.49L1757.17,1386.94L1758.47,1420.86L1759.78,1445.66L1761.08,1435.11L1762.39,1419.55L1763.68,1443.46L1764.97,1448.82L1766.21,1429.66L1767.45,1428.94L1768.7,1440.72L1769.94,1448.82L1771.18,1470.48L1772.42,1502.23L1773.66,1455.23L1774.91,1421.49L1776.15,1448.72L1777.39,1491.05L1778.63,1455.62L1779.88,1433.91L1781.12,1434.52L1782.36,1443.85L1783.6,1443.18L1784.85,1433.91L1786.09,1376.89L1787.33,1349.45L1788.57,1377.67L1789.81,1384.23L1791.06,1377.92L1792.3,1381.74L1793.54,1383.7L1794.78,1404.1L1796.02,1402.35L1797.27,1411.55L1798.51,1418.2L1799.75,1414.04L1800.99,1422.18L1802.24,1419.01L1803.23,1365.81L1804.22,1332.06L1805.47,1346.63L1806.71,1359.38L1807.95,1371L1809.19,1376.77L1810.43,1357.16L1811.68,1359.38L1812.92,1409.69L1814.16,1431.43L1815.4,1442.98L1816.65,1456.27L1817.89,1470.26L1819.13,1481.11L1820.37,1479.6L1821.61,1458.76L1822.86,1451.36L1824.1,1438.88L1825.34,1412.56L1826.58,1399.13L1827.83,1369.87L1829.07,1364.35L1830.31,1368.44L1831.55,1359.38L1832.79,1373.53L1834.04,1389.2L1835.28,1414.94L1836.52,1416.52L1837.76,1391.05L1839.01,1384.23L1840.25,1412L1841.49,1414.04L1842.98,1425.02L1844.47,1421.49L1845.71,1442.48L1846.96,1456.27L1848.2,1452.22L1849.44,1453.79L1850.68,1474.49L1851.93,1483.6L1853.17,1489.31L1854.41,1486.08L1855.65,1463.74L1856.89,1458.76L1858.14,1426.87L1859.38,1414.04L1860.62,1406.63L1861.86,1409.07L1863.11,1407.5L1864.35,1399.13L1865.84,1409.52L1867.33,1416.52L1868.57,1398.97L1869.81,1365.6L1871.06,1375.86L1872.3,1389.2L1873.54,1416.83L1874.78,1433.91L1876.02,1438.63L1877.27,1438.88L1878.51,1432.47L1879.75,1433.91L1880.99,1408.83L1882.24,1409.07L1883.48,1404.03L1884.72,1401.62L1885.96,1404.05L1887.2,1394.16L1888.45,1386.56L1889.69,1384.23L1890.93,1390.09L1892.17,1394.16L1893.17,1374.48L1894.16,1376.77L1895.4,1348.85L1896.65,1334.54L1897.89,1335.04L1899.13,1349.45L1900.37,1358.1L1901.61,1379.26L1902.86,1405.48L1904.1,1433.91L1905.34,1427.87L1906.58,1431.43L1907.83,1411.63L1909.07,1409.07L1910.31,1427.28L1911.55,1433.91L1912.8,1436.17L1914.04,1428.94L1915.28,1413.1L1916.52,1389.2L1917.76,1373.64L1919.01,1359.38L1920.25,1356.98L1921.49,1329.57L1922.24,1310.77L1922.98,1282.37L1924.22,1299.92L1925.47,1322.12L1926.71,1357.41L1927.95,1364.35L1929.19,1368.04L1930.43,1389.2L1931.68,1372.58L1932.92,1364.35L1934.16,1377.25L1935.4,1381.74L1936.65,1370.62L1937.89,1346.96L1939.13,1361.97L1940.37,1369.32L1941.62,1374.22L1942.86,1374.29L1944.1,1356.65L1945.34,1351.93L1946.58,1353.16L1947.83,1354.42L1949.07,1375.96L1950.31,1399.13L1951.55,1413.89L1952.79,1414.04L1954.04,1428.5L1955.28,1468.69L1956.52,1449.27L1957.76,1419.01L1959.01,1400.76L1960.25,1371.81L1961.49,1392.2L1962.73,1391.68L1963.98,1382.57L1965.22,1386.71L1966.46,1403.49L1967.7,1419.01L1968.94,1410.81L1970.19,1414.04L1971.43,1412.6L1972.67,1428.94L1973.91,1396.97L1975.16,1394.16L1976.4,1392.28L1977.64,1399.13L1978.88,1368.53L1980.12,1364.35L1981.37,1352.08L1982.61,1354.42L1983.85,1337.17L1985.09,1334.54L1985.84,1318.56L1986.58,1279.89L1987.83,1308.96L1989.07,1339.51L1990.31,1355.79L1991.55,1376.77L1992.79,1363.28L1994.04,1366.84L1995.28,1374.17L1996.52,1399.13L1997.76,1384.27L1999.01,1379.26L2000.25,1344.27L2001.49,1324.6L2002.73,1348.78L2003.98,1364.35L2005.22,1364.98L2006.46,1391.68L2007.45,1398.14L2008.45,1411.55L2009.69,1398.43L2010.93,1379.26L2012.17,1364.21L2013.42,1346.96L2014.66,1319.16L2015.9,1319.64L2017.14,1326.42L2018.39,1334.54L2024.28,1309.52L2024.85,1300.1L2025.65,1239.7L2026.56,1293.63L2027.69,1277.43L2028.6,1280.82L2029.74,1273.39L2031.1,1275.41L2032.47,1278.77L2033.03,1333.79L2034.28,1340.55L2035.42,1347.27L2036.22,1319.64L2037.35,1345.93L2038.61,1289.57L2039.63,1377.6L2040.54,1376.93L2041.56,1381.67L2043.04,1362.1L2044.17,1365.47L2044.97,1369.53L2046.11,1374.91L2047.24,1366.84L2048.38,1372.22L2049.29,1371.55L2051.33,1316.94L2052.13,1324.35L2052.93,1318.96L2053.61,1306.83L2054.74,1366.84L2055.77,1354.7L2057.24,1356.72L2058.04,1349.29L2058.95,1367.51L2060.09,1395.82L2061.22,1382.34L2062.36,1393.8L2063.5,1359.41L2064.29,1345.93L2065.2,1311.54L2066.34,1329.75L2067.25,1319.64L2068.38,1328.41L2069.52,1314.25L2070.66,1321.65L2071.79,1316.27L2073.16,1304.13L2074.07,1267.05L2075.2,1305.48L2076.34,1278.52L2077.7,1265.03L2078.5,1239L2079.98,1297.38L2081.11,1318.96L2081.91,1329.75L2082.82,1298.73L2083.95,1316.94L2085.09,1298.73L2086.23,1305.48L2087.36,1313.58L2088.27,1356.72L2089.07,1305.48L2090.21,1298.73L2091.34,1305.48L2092.48,1321.65L2093.98,1305.77L2095.46,1297.67L2096.83,1287.55L2097.73,1297.67L2098.87,1276.11L2100.01,1303.07L2101.14,1293.63L2102.28,1313.84L2103.42,1292.28L2104.55,1309.8L2105.69,1327.32L2106.49,1355.37L2108.19,1367.77L2109.55,1327.74L2110.8,1325.3L2111.83,1315.21L2112.96,1277.45L2114.1,1338.53L2115.24,1300.36L2116.15,1297.67L2117.06,1278.8L2117.85,1305.77L2118.99,1303.07L2120.12,1293.63L2121.26,1305.77L2122.4,1292.28L2123.53,1281.49L2125.01,1268.68L2126.15,1281.49L2127.51,1294.97L2128.42,1316.56L2129.33,1278.8L2130.35,1300.36L2131.49,1308.46L2132.63,1323.96L2133.65,1297.67L2134.56,1312.49L2135.7,1281.49L2136.83,1293.63L2137.97,1288.25L2139.11,1270.7L2140.01,1246.43L2141.15,1214.75L2142.29,1266.66L2143.43,1281.49L2144.34,1257.89L2145.47,1292.28L2146.61,1316.56L2147.74,1305.77L2148.88,1308.46L2150.02,1311.15L2150.93,1301.03L2151.95,1313.84L2153.09,1340.8L2154.22,1367.77L2155.02,1386.38L2156.27,1287.29L2157.41,1329.75L2158.54,1335.16L2159.68,1346.6L2160.47,1307.52L2161.61,1328.41L2162.75,1316.27L2163.46,1292.28L2164.82,1282.16L2165.96,1320.33L2167.09,1292.96L2168.23,1320.59L2169.59,1329.75L2170.28,1309.8L2171.41,1303.07L2172.55,1281.49L2173.57,1270.03L2174.71,1285.53L2175.85,1269.35L2176.75,1282.84L2177.89,1263.3L2179.03,1276.11L2180.16,1262.63L2181.3,1236.33L2182.44,1223.52L2183.57,1230.93L2184.37,1262.63L2185.51,1279.47L2186.64,1286.2L2187.78,1287.55L2188.69,1300.36L2189.83,1276.11L2190.96,1255.87L2192.1,1331.38L2193.24,1327.32L2194.37,1334.75L2195.51,1303.07L2196.64,1289.59L2197.55,1331.38L2198.69,1297.67L2199.6,1278.8L2200.62,1277.45L2201.76,1304.42L2202.9,1297.67L2204.03,1315.21L2205.17,1317.9L2206.31,1349.99L2207.22,1325.72L2208.24,1336.77L2209.37,1285.53L2210.51,1275.44L2211.65,1285.53L2212.56,1299.01L2213.69,1279.47L2214.83,1278.13L2215.74,1256.55L2216.88,1259.24L2218.01,1325.72L2219.15,1281.49L2220.29,1300.36L2221.19,1294.97L2222.22,1299.01L2223.35,1289.59L2224.49,1275.44L2225.63,1290.94L2226.76,1276.11L2227.67,1259.24L2228.47,1278.8L2229.83,1246.43L2230.74,1289.59L2231.88,1273.39L2233.02,1318.96L2234.18,1265.27L2235.32,1255.02L2236.45,1255.69L2237.59,1294.12L2238.73,1272.54L2239.63,1255.02L2240.77,1249.61L2241.68,1253.67L2242.82,1283.33L2243.95,1265.81L2245.09,1253.67L2246.23,1242.88L2247.36,1240.19L2248.16,1264.44L2249.3,1257.71L2250.43,1249.61L2251.34,1261.75L2252.36,1237.47L2253.27,1232.09L2254.41,1182.87L2255.55,1188.28L2256.68,1177.49L2257.59,1164.94L2258.73,1133.94L2260.09,1141.36L2261.23,1156.86L2262.37,1194.33L2263.16,1221.3L2264.07,1236.13L2265.44,1200.42L2266.57,1229.4L2267.48,1238.84L2268.62,1237.47L2269.76,1230.74L2270.89,1187.61L2272.03,1170.06L2273.16,1170.76L2274.3,1227.38L2275.44,1248.26L2277.14,1237.47L2278.28,1248.26L2279.42,1257.04L2280.55,1236.13L2281.69,1253L2282.83,1248.26L2284.53,1240.19L2285.67,1240.86L2287.14,1233.44L2288.28,1261.07L2289.42,1255.69L2290.21,1256.36L2291.35,1256.36L2292.49,1271.19L2293.62,1221.3L2294.76,1253L2295.9,1232.09L2297.03,1238.84L2298.17,1228.73L2298.97,1167.37L2300.1,1205.13L2301.01,1231.42L2302.15,1223.99L2303.28,1223.99L2304.68,1239.1L2305.81,1237.76L2306.72,1198.66L2307.86,1198.66L2308.77,1177.07L2309.9,1167.65L2310.81,1158.21L2312.06,1163.59L2313.2,1171.02L2314.11,1201.35L2315.25,1233.72L2316.38,1235.07L2317.18,1238.43L2318.31,1232.35L2319.45,1236.41L2320.59,1183.83L2321.61,1234.78L2322.63,1264.44L2323.54,1299.5L2324.68,1264.44L2325.59,1249.61L2326.73,1261.75L2327.52,1262.42L2328.66,1250.96L2329.45,1240.86L2330.36,1238.17L2331.5,1218.61L2332.41,1211.21L2333.2,1223.99L2334.34,1247.59L2335.48,1247.59L2336.61,1248.26L2337.75,1215.92L2338.89,1233.44L2340.02,1248.26L2341.16,1223.99L2342.3,1240.19L2343.43,1225.36L2344.57,1234.78L2345.48,1205.8L2346.39,1271.19L2347.41,1248.26L2348.55,1244.23L2349.91,1182.48L2350.82,1154.84L2351.96,1205.38L2353.09,1214.83L2354.23,1191.9L2355.37,1158.21L2356.5,1135.28L2357.3,1096.18L2358.44,1113.05L2359.34,1101.3" stroke="#4C72B0" stroke-width="5.2" fill="none" stroke-linejoin="round" stroke-linecap="round"/>
<path d="M1776.15,1436.4L1778.01,1417.43L1779.88,1419.01L1781.74,1410.33L1783.6,1414.04L1785.22,1398L1786.83,1354.42L1788.32,1372.46L1789.81,1371.81L1790.81,1345.24L1791.8,1339.51L1793.04,1333.76L1794.29,1334.54L1795.53,1326.64L1796.77,1324.6L1798.01,1345.47L1799.25,1354.42L1800.5,1373.48L1801.74,1399.13L1802.98,1372.22L1804.22,1351.93L1805.47,1365.56L1806.71,1384.23L1807.95,1382.58L1809.19,1364.35L1810.43,1378.7L1811.68,1389.2L1812.92,1388.18L1814.16,1384.23L1815.03,1359.29L1815.9,1348.21L1817.14,1363.27L1818.39,1409.07L1819.63,1414.99L1820.87,1448.82L1822.11,1428.81L1823.35,1411.55L1824.6,1435.63L1825.84,1456.27L1827.08,1408.81L1828.32,1346.96L1829.19,1372.26L1830.06,1371.81L1831.06,1354.18L1832.05,1307.21L1833.29,1316.7L1834.53,1324.6L1835.78,1345.15L1837.02,1354.42L1838.01,1348.42L1839.01,1337.03L1840.25,1341.01L1841.49,1369.32L1842.36,1405.79L1843.23,1443.85L1844.47,1407.19L1845.71,1374.29L1846.96,1378.72L1848.2,1376.77L1849.44,1444.97L1850.68,1483.6L1851.93,1434.37L1853.17,1374.29L1854.41,1427.8L1855.65,1458.76L1856.89,1467.22L1858.14,1476.15L1859.38,1433.33L1860.62,1421.49L1861.86,1443.4L1863.11,1476.15L1864.35,1471.86L1865.59,1448.82L1866.83,1419.01L1868.07,1399.52L1869.32,1399.13L1870.56,1389.03L1871.8,1389.2L1873.04,1396.82L1874.29,1419.01L1875.53,1418.54L1876.77,1436.4L1878.01,1405.88L1879.25,1391.68L1880.5,1350.39L1881.74,1327.09L1882.98,1327.61L1884.22,1324.6L1885.47,1300.92L1886.71,1302.25L1887.95,1304.05L1889.19,1334.54L1890.44,1336.09L1891.68,1327.09L1892.92,1283.17L1894.16,1255.02L1895.16,1274.44L1896.15,1307.21L1897.39,1322.02L1898.63,1334.54L1899.88,1318.69L1901.12,1304.73L1902.36,1304.83L1903.6,1304.73L1904.47,1331.29L1905.34,1384.23L1906.58,1417.74L1907.83,1451.3L1909.07,1422.38L1910.31,1414.04L1911.55,1407.65L1912.79,1394.16L1914.04,1392.51L1915.28,1404.1L1916.52,1369.33L1917.76,1359.38L1919.01,1384.2L1920.25,1406.59L1921.49,1372.19L1922.73,1341.99L1923.98,1319.89L1925.22,1319.64L1926.46,1315.69L1927.7,1317.15L1928.94,1351.11L1930.19,1384.23L1931.43,1282.37L1932.67,1292.15L1933.91,1292.31L1935.16,1304.95L1936.4,1309.7L1937.64,1281.14L1938.88,1264.98L1940.12,1291.5L1941.37,1297.28L1942.61,1333.05L1943.85,1394.16L1945.09,1409.73L1946.33,1414.04L1947.58,1386.36L1948.82,1384.23L1950.06,1405.05L1951.3,1414.04L1952.55,1424.68L1953.79,1463.72L1955.03,1442.42L1956.27,1433.91L1957.52,1427.62L1958.76,1421.49L1960,1438.33L1961.24,1456.27L1962.48,1423L1963.73,1399.13L1964.97,1379.01L1966.21,1364.35L1967.45,1375.72L1968.7,1379.26L1969.94,1363.49L1971.18,1329.57L1972.42,1363.98L1973.66,1399.13L1974.91,1350.87L1976.15,1329.57L1977.39,1325.38L1978.63,1324.6L1979.88,1357.66L1981.12,1364.35L1982.36,1355.64L1983.6,1356.9L1984.84,1332.49L1986.09,1322.12L1987.33,1306.19L1988.57,1307.21L1989.81,1329.98L1991.06,1334.54L1992.05,1296.51L1993.04,1273.68L1994.29,1324.02L1995.53,1346.96L1996.77,1363.33L1998.01,1389.2L1999.25,1383.07L2000.5,1364.35L2001.74,1357.94L2002.98,1334.54L2004.22,1340.27L2005.47,1369.32L2006.46,1355.46L2007.45,1317.15L2008.57,1325.34L2009.69,1334.54L2010.93,1338.46L2012.17,1364.35L2013.42,1395.88L2014.66,1411.55L2015.9,1396.94L2017.14,1364.35L2018.38,1331.42L2019.63,1322.12L2020.87,1329.8L2022.11,1334.54L2022.98,1305.45L2023.85,1289.82L2024.28,1220.13L2025.53,1185.74L2026.56,1224.84L2027.69,1152.05L2028.83,1177L2029.74,1195.86L2030.88,1214.08L2032.01,1211.36L2033.03,1243.06L2034.17,1250.46L2035.08,1314.93L2036.22,1281.21L2037.35,1312.21L2037.92,1332.45L2038.83,1312.21L2039.63,1366.84L2040.54,1340.55L2041.56,1352.68L2042.7,1387.72L2043.83,1351.31L2044.74,1364.12L2045.88,1343.24L2047.02,1354.03L2048.15,1364.12L2049.29,1353.35L2050.43,1421.44L2051.79,1372.89L2052.93,1344.58L2054.74,1322.74L2055.88,1336.48L2056.9,1359.41L2058.04,1374.91L2059.18,1348.62L2060.31,1343.24L2061.45,1343.24L2062.59,1351.31L2063.5,1362.1L2064.63,1333.12L2065.77,1321.65L2066.56,1294.02L2067.7,1294.02L2068.84,1338.5L2069.97,1313.58L2070.88,1281.21L2072.02,1356.72L2072.93,1305.48L2074.07,1302.79L2075.2,1301.44L2076.34,1286.62L2077.48,1275.82L2078.84,1283.9L2080.2,1282.55L2081.79,1268.4L2083.39,1297.38L2085.09,1301.44L2086.23,1335.81L2087.36,1291.33L2088.27,1304.81L2089.41,1260.58L2090.77,1298.73L2091.68,1306.83L2092.71,1304.13L2093.64,1291.61L2094.78,1348.64L2095.92,1327.32L2097.39,1320.59L2098.19,1308.46L2099.33,1281.49L2100.23,1301.73L2101.14,1245.08L2102.28,1293.63L2103.3,1281.49L2104.44,1255.2L2105.58,1312.49L2106.83,1327.32L2107.96,1361.04L2108.76,1408.63L2110.24,1361.04L2111.37,1327.32L2112.17,1317.23L2113.31,1330.04L2114.21,1329.37L2115.24,1273.39L2116.37,1308.46L2117.51,1292.28L2118.42,1260.58L2119.56,1300.36L2120.69,1305.77L2121.83,1288.92L2122.97,1320.59L2124.1,1289.59L2125.24,1284.18L2126.38,1293.63L2127.29,1321.94L2128.65,1308.46L2130.35,1304.42L2131.49,1330.04L2132.63,1369.53L2133.76,1330.04L2134.9,1316.56L2136.04,1312.49L2136.95,1320.59L2137.97,1296.99L2138.88,1327.99L2140.01,1270.7L2141.15,1239.7L2142.29,1289.59L2143.43,1278.8L2144.34,1289.59L2145.47,1305.77L2146.61,1312.49L2147.74,1299.01L2148.77,1294.3L2149.68,1324.37L2150.81,1323.03L2151.95,1336.51L2153.09,1370.2L2154,1405.94L2155.13,1386.38L2156.27,1380.99L2157.29,1376.96L2158.43,1413.34L2159.57,1394.47L2160.47,1372.22L2161.61,1387.75L2162.75,1351.34L2163.46,1352.68L2164.82,1331.1L2165.96,1338.53L2167.09,1323.03L2168.23,1323.03L2169.59,1340.55L2171.07,1354.03L2172.44,1389.77L2173.57,1292L2174.71,1330.43L2175.85,1286.62L2176.75,1312.49L2177.89,1276.11L2179.03,1314.51L2179.82,1219.46L2180.96,1234.32L2182.1,1214.08L2183.23,1259.91L2184.37,1237.68L2185.51,1265.32L2186.64,1259.91L2187.78,1257.89L2188.92,1262.63L2189.83,1306.44L2190.96,1308.46L2192.1,1334.08L2192.67,1366.16L2193.8,1368.86L2195.17,1392.46L2196.3,1354.03L2197.44,1345.93L2198.58,1309.54L2199.49,1294.04L2200.74,1303.07L2201.76,1314.93L2202.67,1371.55L2203.81,1358.06L2204.83,1345.93L2205.96,1399.86L2207.1,1413.34L2208.01,1359.41L2209.15,1317.62L2210.28,1330.43L2211.42,1312.23L2212.56,1343.24L2213.69,1317.9L2214.83,1303.07L2215.97,1301.03L2217.1,1304.42L2218.01,1311.82L2218.92,1232.27L2219.94,1319.25L2221.08,1317.23L2222.22,1330.04L2223.35,1343.52L2224.49,1290.94L2225.4,1335.42L2226.54,1330.04L2227.67,1296.99L2228.81,1308.46L2229.95,1332.73L2231.08,1308.46L2232.11,1296.99L2233.02,1316.56L2234.18,1317.18L2235.32,1297.61L2235.66,1283.33L2236.79,1281.98L2237.93,1288.71L2239.07,1308.95L2239.86,1326.47L2240.77,1308.95L2241.91,1288.71L2243.04,1284.67L2243.95,1284L2245.09,1268.5L2246.11,1299.5L2247.02,1294.12L2248.16,1317.69L2249.3,1273.88L2250.43,1265.81L2251.34,1304.89L2252.36,1278.62L2253.5,1288.71L2254.64,1240.19L2255.77,1257.71L2256.68,1223.99L2257.25,1200L2258.05,1164.94L2258.96,1128.55L2260.09,1139.34L2261.23,1154.17L2261.91,1187.61L2262.59,1229.4L2263.5,1257.71L2264.64,1241.54L2265.78,1229.4L2266.91,1234.78L2268.05,1240.19L2268.73,1221.97L2269.76,1271.19L2270.89,1248.26L2272.03,1232.09L2273.16,1265.81L2274.3,1261.75L2275.21,1227.38L2276.23,1286.69L2277.37,1267.16L2278.51,1234.78L2279.42,1211.88L2280.55,1188.28L2281.69,1253L2282.83,1229.4L2283.96,1268.5L2284.87,1288.71L2286.01,1273.21L2287.14,1286.02L2288.28,1299.5L2289.42,1294.12L2290.55,1268.5L2291.46,1295.47L2292.49,1320.41L2293.62,1298.16L2294.76,1278.62L2295.9,1278.62L2296.81,1250.96L2297.94,1255.02L2299.08,1255.02L2300.1,1227.38L2301.01,1259.06L2302.15,1221.97L2303.28,1245.57L2304.22,1237.47L2305.36,1196.35L2306.49,1234.78L2307.63,1203.78L2308.77,1199.07L2309.68,1201.09L2310.81,1157.28L2311.95,1180.85L2313.09,1242.21L2314,1201.09L2315.13,1234.78L2316.27,1232.76L2317.41,1232.09L2318.43,1206.47L2319.56,1234.78L2320.47,1209.16L2321.61,1272.54L2322.75,1278.62L2323.88,1261.07L2324.91,1308.95L2326.04,1322.43L2327.18,1289.38L2328.09,1312.31L2329.23,1258.38L2330.36,1265.81L2331.5,1240.19L2332.41,1216.59L2333.54,1288.71L2334.68,1258.38L2335.82,1304.89L2336.84,1312.31L2337.98,1272.54L2339.11,1242.21L2340.25,1269.85L2341.16,1294.12L2342.3,1219.28L2343.43,1240.19L2344.57,1245.57L2345.48,1229.4L2346.62,1269.85L2347.64,1295.47L2348.77,1322.43L2349.91,1288.71L2350.82,1261.07L2351.96,1265.81L2353.09,1215.92L2354.23,1214.57L2355.03,1147.42L2356.16,1131.24L2356.96,1078.66L2357.87,1071.65L2358.78,1072.99L2359.46,1076.23" stroke="#55A868" stroke-width="5.2" fill="none" stroke-linejoin="round" stroke-linecap="round"/>
<path d="M2359.47,1244.35L3346.78,964.62" stroke="#FF4444" stroke-width="7.8" stroke-dasharray="7.8,12.81" fill="none"/>
<path d="M1776.95,1409.4L2359.47,1244.35" stroke="#FF4444" stroke-width="7.8" stroke-linecap="round" fill="none"/>
<path d="M752.88,1538.9H3611.2" stroke="#000" stroke-opacity="0.5" stroke-width="7.8" stroke-dasharray="7.8,12.81" fill="none"/>
<path d="M104.4,1538.9H752.88" stroke="#000" stroke-width="7.8" stroke-linecap="round" fill="none"/>
<circle cx="3217.08" cy="424.33" r="32" fill="#000"/>
<circle cx="3346.78" cy="1021.34" r="32" fill="#000"/>
<circle cx="3346.78" cy="1150.73" r="32" fill="#000"/>
</g>
<rect x="0" y="0" width="1791.9" height="1280.9" fill="#fff"/>
<rect x="1780" y="0" width="918.9" height="634.0" fill="#fff"/>
<text x="105" y="1863.1" font-size="45.0" text-anchor="middle">1850</text>
<text x="753.48" y="1863.1" font-size="45.0" text-anchor="middle">1900</text>
<text x="1401.95" y="1863.1" font-size="45.0" text-anchor="middle">1950</text>
<text x="2050.42" y="1863.1" font-size="45.0" text-anchor="middle">2000</text>
<text x="2698.9" y="1863.1" font-size="45.0" text-anchor="middle">2050</text>
<text x="3347.38" y="1863.1" font-size="45.0" text-anchor="middle">2100</text>
<text x="3637" y="132.61" font-size="45.0">+5.5</text>
<text x="3637" y="262" font-size="45.0">+5.0</text>
<text x="3637" y="391.39" font-size="45.0">+4.5</text>
<text x="3637" y="520.78" font-size="45.0">+4.0</text>
<text x="3637" y="650.17" font-size="45.0">+3.5</text>
<text x="3637" y="779.56" font-size="45.0">+3.0</text>
<text x="3637" y="908.95" font-size="45.0">+2.5</text>
<text x="3637" y="1038.34" font-size="45.0">+2.0</text>
<text x="3637" y="1167.73" font-size="45.0">+1.5</text>
<text x="3637" y="1297.12" font-size="45.0">+1.0</text>
<text x="3637" y="1426.51" font-size="45.0">+0.5</text>
<text x="3637" y="1556.7" font-size="45.0">PreInd.</text>
<text x="3637" y="1685.29" font-size="45.0">-0.5</text>
<text x="3637" y="1814.68" font-size="45.0">-1.0</text>
<text x="3412.1" y="387.1" font-size="44.6" text-anchor="middle">Unrestrained</text>
<text x="3412.1" y="436.6" font-size="44.6" text-anchor="middle">Emissions</text>
<text x="3412.5" y="485.6" font-size="44.6" text-anchor="middle">Scenario</text>
<text x="3385.5" y="1010" font-size="44.6">Paris</text>
<text x="3385.5" y="1057.8" font-size="44.6">2015</text>
<text x="3347.1" y="1233.9" font-size="44.6" text-anchor="middle">IPCC SR15</text>
<text x="3347.4" y="1283.9" font-size="44.6" text-anchor="middle">(2018)</text>
<text x="3608.5" y="1787.1" font-size="54.0" text-anchor="end">clima.zi.fi</text>
<text x="1856.25" y="89" font-size="53.5" text-anchor="middle">Historical, Latest and Predicted Global Temperature Anomalies</text>
<path d="M1838.6,201.2H1927.4" stroke="#4C72B0" stroke-width="5.2" stroke-linecap="round"/>
<path d="M1838.6,266.6H1927.4" stroke="#55A868" stroke-width="5.2" stroke-linecap="round"/>
<path d="M1838.6,331.7H1927.4" stroke="#FF4444" stroke-width="7.8" stroke-linecap="round"/>
<path d="M1838.6,396.9H1927.4" stroke="#000" stroke-width="7.8" stroke-linecap="round"/>
<rect x="1838.4" y="447.4" width="89.3" height="31.1" fill="#808080" fill-opacity="0.7" stroke="#808080" stroke-opacity="0.7" stroke-width="1.6" stroke-linejoin="miter"/>
<circle cx="1883.3" cy="531.1" r="32" fill="#000"/>
<text x="1962.3" y="217.4" font-size="44.6">HadCRUT5 land+sea</text>
<text x="1962.3" y="282.6" font-size="44.6">UAH satellite series</text>
<text x="1962.3" y="347.8" font-size="44.6">UAH trend, 1.42 K/century</text>
<text x="1962.3" y="413" font-size="44.6">Pre-industrial reference</text>
<text x="1962.3" y="478.2" font-size="44.6">IPCC RCP 8.5 likely range</text>
<text x="1962.3" y="543.4" font-size="44.6">Climate targets</text>
<rect x="127.95" y="138.5" width="1503.75" height="1041.4" fill="#EEEEFC"/>
<path d="M170.7,138.5V1179.9M215,138.5V1179.9M259.3,138.5V1179.9M303.59,138.5V1179.9M347.89,138.5V1179.9M392.19,138.5V1179.9M436.49,138.5V1179.9M480.78,138.5V1179.9M525.08,138.5V1179.9M569.38,138.5V1179.9M613.67,138.5V1179.9M657.97,138.5V1179.9M702.27,138.5V1179.9M746.56,138.5V1179.9M790.86,138.5V1179.9M835.16,138.5V1179.9M879.45,138.5V1179.9M923.75,138.5V1179.9M968.05,138.5V1179.9M1012.35,138.5V1179.9M1056.64,138.5V1179.9M1100.94,138.5V1179.9M1145.24,138.5V1179.9M1189.53,138.5V1179.9M1233.83,138.5V1179.9M1278.13,138.5V1179.9M1322.42,138.5V1179.9M1366.72,138.5V1179.9M1411.02,138.5V1179.9M1455.32,138.5V1179.9M1499.61,138.5V1179.9M1543.91,138.5V1179.9M1588.21,138.5V1179.9M127.95,1105.99H1631.7M127.95,1031.48H1631.7M127.95,956.97H1631.7M127.95,882.46H1631.7M127.95,807.95H1631.7M127.95,733.44H1631.7M127.95,658.93H1631.7M127.95,584.42H1631.7M127.95,509.91H1631.7M127.95,435.4H1631.7M127.95,360.89H1631.7M127.95,286.38H1631.7M127.95,211.87H1631.7" stroke="#fff" stroke-width="2.1" fill="none"/>
<g clip-path="url(#ci)">
<polygon points="436.49,785.6 2651.34,-913.23 4201.73,-2552.45 4201.73,-913.23 2651.34,-19.11 436.49,875.01" fill="#808080" fill-opacity="0.7" stroke="#808080" stroke-opacity="0.7" stroke-width="1.6" stroke-linejoin="miter"/>
<path d="M127.77,818.08L129.71,790.96L132.42,617.06L135.53,772.33L139.41,725.69L142.52,735.45L146.4,714.07L151.06,719.88L155.71,729.57L157.65,887.97L161.92,907.42L165.81,926.79L168.52,847.22L172.41,922.92L176.68,760.64L180.17,1014.12L183.27,1012.18L186.77,1025.82L191.81,969.49L195.7,979.17L198.42,990.87L202.3,1006.37L206.18,983.12L210.06,998.62L213.17,996.68L220.16,839.47L222.87,860.78L225.59,845.28L227.92,810.33L231.8,983.12L235.3,948.18L240.34,953.99L243.06,932.61L246.16,985.06L250.05,1066.57L253.93,1027.75L257.81,1060.76L261.69,961.74L264.41,922.92L267.51,823.9L271.4,876.35L274.5,847.22L278.38,872.48L282.26,831.72L286.15,853.03L290.03,837.53L294.69,802.59L297.8,695.81L301.68,806.46L305.56,728.82L310.22,690L312.94,615.04L317.98,783.14L321.86,845.28L324.58,876.35L327.69,787.01L331.57,839.47L335.45,787.01L339.33,806.46L343.21,829.78L346.32,953.99L349.04,806.46L352.92,787.01L356.8,806.46L360.68,853.03L365.82,807.28L370.87,783.96L375.53,754.82L378.63,783.96L382.51,721.89L386.4,799.53L390.28,772.33L394.16,830.53L398.04,768.46L401.92,818.9L405.81,869.35L408.52,950.12L414.35,985.81L419.01,870.54L423.28,863.53L426.77,834.48L430.65,725.77L434.54,901.61L438.42,791.71L441.52,783.96L444.63,729.64L447.35,807.28L451.23,799.53L455.11,772.33L458.99,807.28L462.87,768.46L466.75,737.39L471.8,700.51L475.68,737.39L480.34,776.21L483.45,838.35L486.55,729.64L490.04,791.71L493.93,815.03L497.81,859.66L501.3,783.96L504.41,826.65L508.29,737.39L512.18,772.33L516.06,756.84L519.94,706.32L523.04,636.43L526.93,545.23L530.81,694.69L534.69,737.39L537.8,669.44L541.68,768.46L545.56,838.35L549.44,807.28L553.32,815.03L557.2,822.78L560.31,793.64L563.8,830.53L567.69,908.17L571.57,985.81L574.28,1039.38L578.55,754.08L582.44,876.35L586.32,891.92L590.2,924.86L592.92,812.35L596.8,872.48L600.69,837.53L603.1,768.46L607.76,739.33L611.64,849.23L615.53,770.4L619.41,849.97L624.07,876.35L626.4,818.9L630.28,799.53L634.16,737.39L637.66,704.38L641.54,749.01L645.42,702.44L648.53,741.26L652.41,685.01L656.29,721.89L660.17,683.07L664.05,607.37L667.94,570.49L671.82,591.8L674.53,683.07L678.42,731.58L682.3,750.95L686.18,754.82L689.28,791.71L693.17,721.89L697.05,663.62L700.93,881.04L704.81,869.35L708.69,890.73L712.58,799.53L716.46,760.71L719.56,881.04L723.45,783.96L726.55,729.64L730.05,725.77L733.93,803.4L737.81,783.96L741.69,834.48L745.58,842.22L749.46,934.62L752.56,864.73L756.06,896.54L759.94,749.01L763.82,719.95L767.7,749.01L770.81,787.83L774.69,731.58L778.57,727.7L781.68,665.56L785.56,673.31L789.44,864.73L793.32,737.39L797.2,791.71L800.31,776.21L803.8,787.83L807.69,760.71L811.57,719.95L815.45,764.59L819.33,721.89L822.44,673.31L825.16,729.64L829.82,636.43L832.92,760.71L836.8,714.07L840.68,845.28L844.66,690.67L848.54,661.17L852.42,663.1L856.31,773.75L860.19,711.61L863.29,661.17L867.18,645.59L870.28,657.29L874.16,742.68L878.04,692.24L881.93,657.29L885.81,626.22L889.69,618.47L892.41,688.29L896.29,668.91L900.17,645.59L903.28,680.54L906.77,610.65L909.87,595.15L913.76,453.43L917.64,469L921.52,437.93L924.63,401.8L928.51,312.53L933.17,333.92L937.05,378.55L940.93,486.44L943.65,564.08L946.76,606.77L951.41,503.95L955.3,587.4L958.4,614.6L962.28,610.65L966.17,591.27L970.05,467.07L973.93,416.55L977.81,418.56L981.69,581.59L985.57,641.72L991.4,610.65L995.28,641.72L999.16,666.98L1003.04,606.77L1006.92,655.35L1010.81,641.72L1016.63,618.47L1020.51,620.41L1025.56,599.02L1029.44,678.6L1033.33,663.1L1036.04,665.04L1039.92,665.04L1043.81,707.73L1047.69,564.08L1051.57,655.35L1055.45,595.15L1059.33,614.6L1063.21,585.46L1065.93,408.8L1069.81,517.51L1072.92,593.21L1076.8,571.83L1080.68,571.83L1085.44,615.34L1089.32,611.47L1092.42,498.88L1096.31,498.88L1099.41,436.74L1103.29,409.62L1106.4,382.42L1110.67,397.92L1114.55,419.31L1117.65,506.63L1121.54,599.84L1125.42,603.72L1128.14,613.4L1132.02,595.89L1135.9,607.59L1139.78,456.19L1143.27,602.9L1146.77,688.29L1149.87,789.25L1153.76,688.29L1156.86,645.59L1160.75,680.54L1163.46,682.48L1167.35,649.47L1170.06,620.41L1173.17,612.66L1177.05,556.33L1180.16,535.02L1182.87,571.83L1186.76,639.78L1190.64,639.78L1194.52,641.72L1198.4,548.58L1202.28,599.02L1206.16,641.72L1210.05,571.83L1213.93,618.47L1217.81,575.78L1221.69,602.9L1224.8,519.45L1227.9,707.73L1231.4,641.72L1235.28,630.09L1239.94,452.31L1243.04,372.74L1246.93,518.26L1250.81,545.45L1254.69,479.44L1258.57,382.42L1262.45,316.41L1265.17,203.82L1269.05,252.4L1272.16,218.58" stroke="#4C72B0" stroke-width="5.2" fill="none" stroke-linejoin="round" stroke-linecap="round"/>
<path d="M126.29,761.38L127.77,560.73L132.04,461.7L135.53,574.29L139.41,364.69L143.29,436.52L146.4,490.84L150.28,543.29L154.16,535.47L157.65,626.74L161.54,648.05L164.64,833.66L168.52,736.57L172.41,825.83L174.35,884.1L177.45,825.83L180.17,983.12L183.27,907.42L186.77,942.37L190.65,1043.25L194.53,938.42L197.64,975.3L201.52,915.17L205.41,946.24L209.29,975.3L213.17,944.3L217.05,1140.34L221.71,1000.56L225.59,919.04L231.8,856.16L235.68,895.72L239.18,961.74L243.06,1006.37L246.94,930.67L250.82,915.17L254.7,915.17L258.59,938.42L261.69,969.49L265.57,886.04L269.46,853.03L272.17,773.45L276.05,773.45L279.94,901.53L283.82,829.78L286.93,736.57L290.81,953.99L293.92,806.46L297.8,798.71L301.68,794.84L305.56,752.14L309.44,721.07L314.1,744.32L318.76,740.44L324.19,699.69L329.63,783.14L335.45,794.84L339.33,893.79L343.21,765.7L346.32,804.52L350.2,677.18L354.86,787.01L357.96,810.33L361.46,802.59L364.66,766.52L368.54,930.74L372.42,869.35L377.47,849.97L380.19,815.03L384.07,737.39L387.17,795.66L390.28,632.55L394.16,772.33L397.65,737.39L401.54,661.69L405.42,826.65L409.69,869.35L413.57,966.43L416.29,1103.46L421.34,966.43L425.22,869.35L427.94,840.29L431.82,877.17L434.92,875.23L438.42,714.07L442.3,815.03L446.18,768.46L449.29,677.18L453.17,791.71L457.05,807.28L460.93,758.77L464.81,849.97L468.7,760.71L472.58,745.14L476.46,772.33L479.56,853.85L484.22,815.03L490.04,803.4L493.93,877.17L497.81,990.87L501.69,877.17L505.58,838.35L509.46,826.65L512.56,849.97L516.06,782.02L519.16,871.28L523.04,706.32L526.93,617.06L530.81,760.71L534.69,729.64L537.8,760.71L541.68,807.28L545.56,826.65L549.44,787.83L552.93,774.27L556.04,860.85L559.92,856.98L563.8,895.8L567.69,992.81L570.79,1095.71L574.67,1039.38L578.55,1023.88L582.05,1012.26L585.93,1117.02L589.81,1062.7L592.92,998.62L596.8,1043.33L600.69,938.49L603.1,942.37L607.76,880.22L611.64,901.61L615.53,856.98L619.41,856.98L624.07,907.42L629.11,946.24L633.77,1049.14L637.66,767.64L641.54,878.29L645.42,752.14L648.53,826.65L652.41,721.89L656.29,832.46L659.01,558.79L662.89,601.56L666.77,543.29L670.65,675.25L674.53,611.24L678.42,690.82L682.3,675.25L686.18,669.44L690.06,683.07L693.17,809.22L697.05,815.03L700.93,888.79L702.87,981.19L706.75,988.93L711.41,1056.89L715.29,946.24L719.18,922.92L723.06,818.16L726.17,773.53L730.44,799.53L733.93,833.66L737.04,996.68L740.92,957.86L744.41,922.92L748.29,1078.2L752.17,1117.02L755.28,961.74L759.16,841.4L763.04,878.29L766.93,825.91L770.81,915.17L774.69,842.22L778.57,799.53L782.45,793.64L786.33,803.4L789.44,824.71L792.55,595.67L796.04,846.1L799.92,840.29L803.8,877.17L807.69,915.99L811.57,764.59L814.68,892.67L818.56,877.17L822.44,782.02L826.32,815.03L830.2,884.92L834.09,815.03L837.58,782.02L840.68,838.35L844.66,840.14L848.54,783.81L849.71,742.68L853.59,738.8L857.47,758.18L861.35,816.44L864.07,866.89L867.18,816.44L871.06,758.18L874.94,746.55L878.04,744.62L881.93,699.99L885.42,789.25L888.53,773.75L892.41,841.63L896.29,715.48L900.17,692.24L903.28,804.75L906.77,729.12L910.65,758.18L914.53,618.47L918.41,668.91L921.52,571.83L923.46,502.76L926.18,401.8L929.28,297.03L933.17,328.11L937.05,370.8L939.38,467.07L941.71,587.4L944.82,668.91L948.7,622.35L952.58,587.4L956.46,602.9L960.34,618.47L962.67,566.02L966.17,707.73L970.05,641.72L973.93,595.15L977.81,692.24L981.69,680.54L984.8,581.59L988.29,752.37L992.17,696.11L996.06,602.9L999.16,536.96L1003.04,469L1006.92,655.35L1010.81,587.4L1014.69,699.99L1017.79,758.18L1021.67,713.55L1025.56,750.43L1029.44,789.25L1033.33,773.75L1037.21,699.99L1040.31,777.62L1043.81,849.45L1047.69,785.37L1051.57,729.12L1055.45,729.12L1058.56,649.47L1062.44,661.17L1066.32,661.17L1069.81,581.59L1072.92,672.79L1076.8,566.02L1080.68,633.97L1083.88,610.65L1087.77,492.25L1091.65,602.9L1095.53,513.64L1099.41,500.07L1102.52,505.89L1106.4,379.74L1110.28,447.62L1114.16,624.28L1117.27,505.89L1121.15,602.9L1125.03,597.09L1128.91,595.15L1132.41,521.38L1136.29,602.9L1139.39,529.13L1143.27,711.61L1147.16,729.12L1151.04,678.6L1154.53,816.44L1158.42,855.26L1162.3,760.11L1165.41,826.13L1169.29,670.85L1173.17,692.24L1177.05,618.47L1180.16,550.52L1184.04,758.18L1187.92,670.85L1191.8,804.75L1195.3,826.13L1199.18,711.61L1203.06,624.28L1206.94,703.86L1210.05,773.75L1213.93,558.27L1217.81,618.47L1221.69,633.97L1224.8,587.4L1228.68,703.86L1232.17,777.62L1236.05,855.26L1239.94,758.18L1243.04,678.6L1246.93,692.24L1250.81,548.58L1254.69,544.71L1257.41,351.35L1261.29,304.78L1264.01,153.38L1267.11,133.19L1270.22,137.06L1272.55,146.38" stroke="#55A868" stroke-width="5.2" fill="none" stroke-linejoin="round" stroke-linecap="round"/>
<path d="M1272.59,630.45L1676.8,533.9" stroke="#FF4444" stroke-width="7.8" stroke-dasharray="7.8,12.81" fill="none"/>
<path d="M104.26,909.51L1272.59,630.45" stroke="#FF4444" stroke-width="7.8" stroke-linecap="round" fill="none"/>
</g>
<text x="215.2" y="1245.1" font-size="45.0" text-anchor="middle">2000</text>
<text x="436.69" y="1245.1" font-size="45.0" text-anchor="middle">2005</text>
<text x="658.17" y="1245.1" font-size="45.0" text-anchor="middle">2010</text>
<text x="879.65" y="1245.1" font-size="45.0" text-anchor="middle">2015</text>
<text x="1101.14" y="1245.1" font-size="45.0" text-anchor="middle">2020</text>
<text x="1322.62" y="1245.1" font-size="45.0" text-anchor="middle">2025</text>
<text x="1544.11" y="1245.1" font-size="45.0" text-anchor="middle">2030</text>
<text x="1663.8" y="1197.4" font-size="45.0">0.4</text>
<text x="1663.8" y="1122.89" font-size="45.0">0.5</text>
<text x="1663.8" y="1048.38" font-size="45.0">0.6</text>
<text x="1663.8" y="973.87" font-size="45.0">0.7</text>
<text x="1663.8" y="899.36" font-size="45.0">0.8</text>
<text x="1663.8" y="824.85" font-size="45.0">0.9</text>
<text x="1663.8" y="750.34" font-size="45.0">1.0</text>
<text x="1663.8" y="675.83" font-size="45.0">1.1</text>
<text x="1663.8" y="601.32" font-size="45.0">1.2</text>
<text x="1663.8" y="526.81" font-size="45.0">1.3</text>
<text x="1663.8" y="452.3" font-size="45.0">1.4</text>
<text x="1663.8" y="377.79" font-size="45.0">1.5</text>
<text x="1663.8" y="303.28" font-size="45.0">1.6</text>
<text x="1663.8" y="228.77" font-size="45.0">1.7</text>
<text x="1663.8" y="154.26" font-size="45.0">1.8</text>
<polygon points="1311.3,148.5 1381.4,76.5 1381.4,101.5 1546.7,101.5 1546.7,195.6 1381.4,195.6 1381.4,220.5" fill="#66DD66" stroke="#000" stroke-width="4.2" stroke-linejoin="miter" stroke-miterlimit="10"/>
<text x="1361.5" y="139.7" font-size="35.4" style="fill:#000">+1.79 K</text>
<text x="1361.5" y="178.1" font-size="35.4" style="fill:#000">(2023/11)</text>
</svg></body></html>
